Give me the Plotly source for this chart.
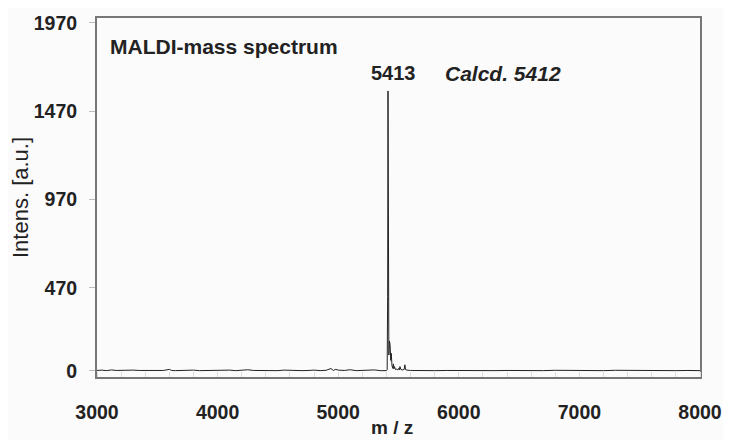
import plotly.graph_objects as go

# m/z values and intensities
mz = [3000, 3040, 3080, 3120, 3160, 3200, 3250, 3300, 3350, 3400, 3450, 3500,
      3550, 3600, 3620, 3650, 3700, 3750, 3800, 3850, 3900, 3950, 4000, 4050,
      4100, 4150, 4200, 4250, 4300, 4350, 4400, 4450, 4500, 4550, 4600, 4650,
      4700, 4750, 4800, 4850, 4900, 4940, 4960, 4980, 5000, 5050, 5100, 5150,
      5200, 5250, 5300, 5350, 5380, 5400, 5406, 5410, 5413, 5416, 5420, 5425,
      5430, 5436, 5440, 5446, 5452, 5458, 5462, 5466, 5475, 5485, 5495, 5502,
      5508, 5512, 5520, 5535, 5548, 5553, 5558, 5570, 5600, 5650, 5700, 5750, 5800,
      5900, 6000, 6100, 6200, 6300, 6400, 6500, 6600, 6700, 6800, 6900, 7000,
      7100, 7200, 7300, 7400, 7500, 7600, 7700, 7800, 7900, 8000]
intensity = [3, 5, 2, 6, 3, 4, 2, 5, 3, 4, 2, 4,
             3, 9, 3, 2, 4, 3, 5, 2, 3, 4, 2, 3,
             5, 2, 4, 7, 3, 2, 4, 3, 2, 5, 3, 4,
             2, 3, 5, 2, 4, 14, 3, 9, 5, 3, 7, 2,
             4, 3, 6, 2, 4, 2, 8, 420, 1585, 700, 90, 170,
             150, 60, 100, 30, 15, 40, 12, 25, 8, 10, 6, 15,
             6, 25, 8, 6, 10, 35, 8, 5, 3, 2, 4, 3, 2,
             3, 2, 3, 4, 2, 3, 2, 3, 2, 4, 3, 2,
             3, 2, 4, 3, 2, 3, 4, 2, 3, 2]

y_ticks = [0, 470, 970, 1470, 1970]
x_ticks = [3000, 4000, 5000, 6000, 7000, 8000]
x_tick_labels = ["3000", "4000", "5000", "6000", "7000", "8000"]

FONT = "Liberation Sans, Arial, sans-serif"

fig = go.Figure()
fig.add_trace(go.Scatter(x=mz, y=intensity, mode="lines",
                         line=dict(color="#222222", width=1), showlegend=False))

fig.add_annotation(x=0.018, y=1835, xref="paper", yref="y", xanchor="left",
                   yanchor="middle", showarrow=False, text="MALDI-mass spectrum",
                   font=dict(family=FONT, size=21, color="#222222", weight="bold"))
fig.add_annotation(x=0.491, y=1685, xref="paper", yref="y", xanchor="center",
                   yanchor="middle", showarrow=False, text="5413",
                   font=dict(family=FONT, size=20, color="#222222", weight="bold"))
fig.add_annotation(x=0.574, y=1685, xref="paper", yref="y", xanchor="left",
                   yanchor="middle", showarrow=False, text="Calcd. 5412",
                   font=dict(family=FONT, size=21, color="#222222", weight="bold",
                             style="italic"))
fig.add_annotation(x=0.489, y=-0.142, xref="paper", yref="paper", xanchor="center",
                   yanchor="middle", showarrow=False, text="m / z",
                   font=dict(family=FONT, size=19, color="#222222", weight="bold"))

fig.update_layout(
    width=715, height=432,
    margin=dict(l=89, r=23, t=10, b=63, autoexpand=False),
    paper_bgcolor="#fbfbfb", plot_bgcolor="#fbfbfb",
    font=dict(family=FONT, color="#222222"),
    xaxis=dict(range=[3000, 8000], tickvals=x_ticks, ticktext=x_tick_labels,
               showgrid=False, zeroline=False, showline=True, linecolor="#777777",
               linewidth=2, mirror=True, ticks="", ticklabelstandoff=17,
               automargin=False, ticklabeloverflow="allow",
               tickfont=dict(size=19.5, weight="bold"),
               minor=dict(dtick=200, ticks="inside", ticklen=5, tickcolor="#dddddd")),
    yaxis=dict(range=[-34, 1998], tickvals=y_ticks, ticktext=[str(v) for v in y_ticks],
               showgrid=False, zeroline=False, showline=True, linecolor="#777777",
               linewidth=2, mirror=True, ticks="outside", ticklen=6, tickcolor="#bbbbbb",
               ticklabelstandoff=8, automargin=False,
               tickfont=dict(size=19.5, weight="bold"),
               title=dict(text="Intens. [a.u.]", font=dict(size=22), standoff=4)),
)

fig.write_html("out.html")
